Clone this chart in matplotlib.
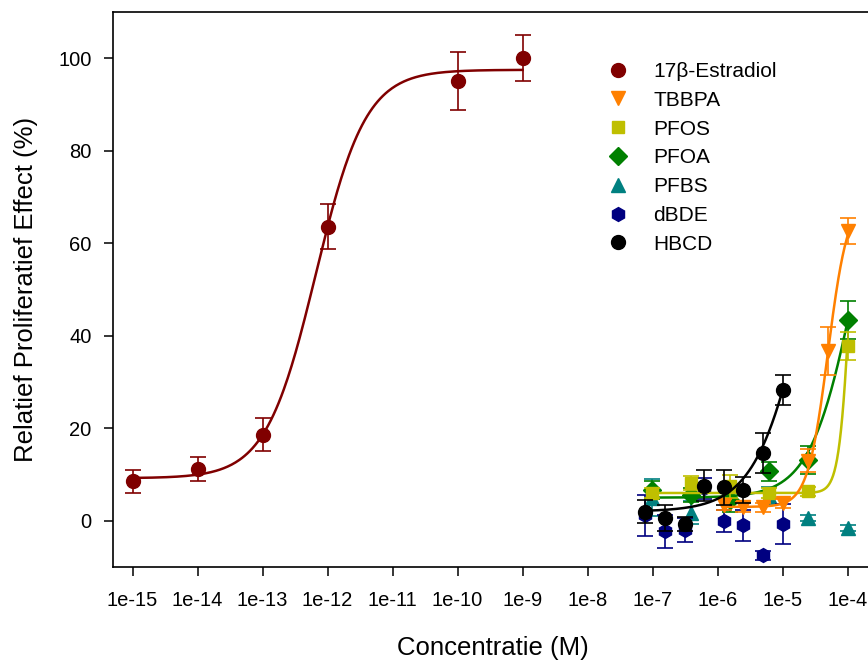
import numpy as np
import matplotlib
matplotlib.use("Agg")
import matplotlib.pyplot as plt

plt.rcParams['font.family'] = ['Liberation Sans', 'DejaVu Sans']

# concentration series (M)
conc_e2 = [1e-15, 1e-14, 1e-13, 1e-12, 1e-10, 1e-9]
conc_2fold = [7.8e-8, 1.56e-7, 3.125e-7, 6.25e-7, 1.25e-6, 2.5e-6, 5e-6, 1e-5]
conc_4fold = [9.8e-8, 3.9e-7, 1.56e-6, 6.25e-6, 2.5e-5, 1e-4]
conc_tbbpa = [1.25e-6, 2.5e-6, 5e-6, 1e-5, 2.5e-5, 5e-5, 1e-4]

# effect (%) and error
e2_y = [8.5, 11.1, 18.6, 63.6, 95.1, 100.1]
e2_err = [2.4, 2.6, 3.6, 4.8, 6.3, 5.0]
tbbpa_y = [3.5, 3.0, 2.9, 3.8, 13.0, 36.7, 62.6]
tbbpa_err = [1.2, 1.0, 1.0, 1.0, 2.5, 5.2, 2.8]
pfos_y = [6.0, 8.2, 7.5, 6.0, 6.4, 37.8]
pfos_err = [1.0, 1.5, 2.5, 1.0, 1.0, 3.0]
pfoa_y = [6.7, 5.6, 4.5, 10.7, 13.2, 43.4]
pfoa_err = [2.0, 1.5, 2.5, 2.0, 3.0, 4.1]
pfbs_y = [5.0, 1.7, 6.0, 5.3, 0.6, -1.6]
pfbs_err = [4.0, 2.5, 2.0, 2.0, 0.6, 0.6]
dbde_y = [1.2, -2.3, -2.0, 7.0, -0.1, -1.0, -7.5, -0.7]
dbde_err = [4.4, 3.5, 2.6, 2.2, 2.4, 3.3, 1.0, 4.3]
hbcd_y = [2.0, 0.6, -0.7, 7.6, 7.2, 6.7, 14.7, 28.3]
hbcd_err = [2.4, 2.8, 1.5, 3.3, 3.7, 2.8, 4.3, 3.3]

# fitted sigmoid parameters: bottom, top, logEC50, hill slope
fit_e2 = [9.2, 97.5, -12.18, 1.13]
fit_tbbpa = [3.0, 70.0, -4.30, 2.8]
fit_pfos = [6.0, 100.0, -3.946, 5.0]
fit_pfoa = [5.0, 100.0, -3.86, 1.25]
fit_hbcd = [2.0, 100.0, -4.60, 1.1]

xticks = [10.0 ** k for k in range(-15, -3)]
xtick_labels = ["1e%d" % k for k in range(-15, -3)]


def hill(logx, p):
    b, t, ec, h = p
    return b + (t - b) / (1 + 10 ** ((ec - logx) * h))


fig = plt.figure(figsize=(8.68, 6.6), dpi=100)
ax = fig.add_axes([113 / 868, 93 / 660, 767 / 868, 555 / 660])

series = [
    ("17\u03b2-Estradiol", conc_e2, e2_y, e2_err, "#800000", "o", fit_e2),
    ("TBBPA", conc_tbbpa, tbbpa_y, tbbpa_err, "#ff8000", "v", fit_tbbpa),
    ("PFOS", conc_4fold, pfos_y, pfos_err, "#bfbf00", "s", fit_pfos),
    ("PFOA", conc_4fold, pfoa_y, pfoa_err, "#008000", "D", fit_pfoa),
    ("PFBS", conc_4fold, pfbs_y, pfbs_err, "#008080", "^", None),
    ("dBDE", conc_2fold, dbde_y, dbde_err, "#000080", "h", None),
    ("HBCD", conc_2fold, hbcd_y, hbcd_err, "black", "o", fit_hbcd),
]
zorders = {"17\u03b2-Estradiol": 3, "TBBPA": 6, "PFOS": 5, "PFOA": 4,
           "PFBS": 3, "dBDE": 3.5, "HBCD": 7}
msizes = {"o": 10, "v": 10, "s": 9, "D": 9, "^": 9.5, "h": 10}

handles = []
for name, cx, cy, ce, col, mk, fit in series:
    z = zorders[name]
    ax.errorbar(cx, cy, yerr=ce, fmt="none", ecolor=col, elinewidth=1.2,
                capsize=5.8, capthick=1.2, zorder=z)
    if fit is not None:
        lx = np.linspace(np.log10(cx[0]), np.log10(cx[-1]), 300)
        ax.plot(10 ** lx, hill(lx, fit), color=col, lw=1.8, zorder=z)
    h, = ax.plot(cx, cy, ls="none", marker=mk, ms=msizes[mk], color=col,
                 mec=col, label=name, zorder=z + 0.1)
    handles.append(h)

ax.set_xscale("log")
ax.set_xlim(10 ** -15.3, 10 ** -3.5)
ax.set_ylim(-10, 110)
ax.set_xticks(xticks)
ax.set_xticklabels(xtick_labels)
ax.minorticks_off()
ax.set_yticks([0, 20, 40, 60, 80, 100])
ax.tick_params(axis="both", direction="out", length=6.5, width=1.1,
               labelsize=14.5, pad=9, top=False, right=False)
ax.tick_params(axis="x", pad=11)
for s in ax.spines.values():
    s.set_linewidth(1.2)

ax.set_xlabel("Concentratie (M)", fontsize=18.5)
ax.set_ylabel("Relatief Proliferatief Effect (%)", fontsize=18.5)
ax.xaxis.set_label_coords((493 - 113) / 767, -0.125)
ax.yaxis.set_label_coords(-0.098, 0.5)

leg = ax.legend(handles=handles, loc="upper left", frameon=False,
                bbox_to_anchor=(602 / 868, 1 - 62 / 660),
                bbox_transform=fig.transFigure, fontsize=15,
                handlelength=1.5, handletextpad=0.95, labelspacing=0.47,
                borderpad=0, borderaxespad=0, numpoints=1)

fig.savefig("out.png", dpi=100)
